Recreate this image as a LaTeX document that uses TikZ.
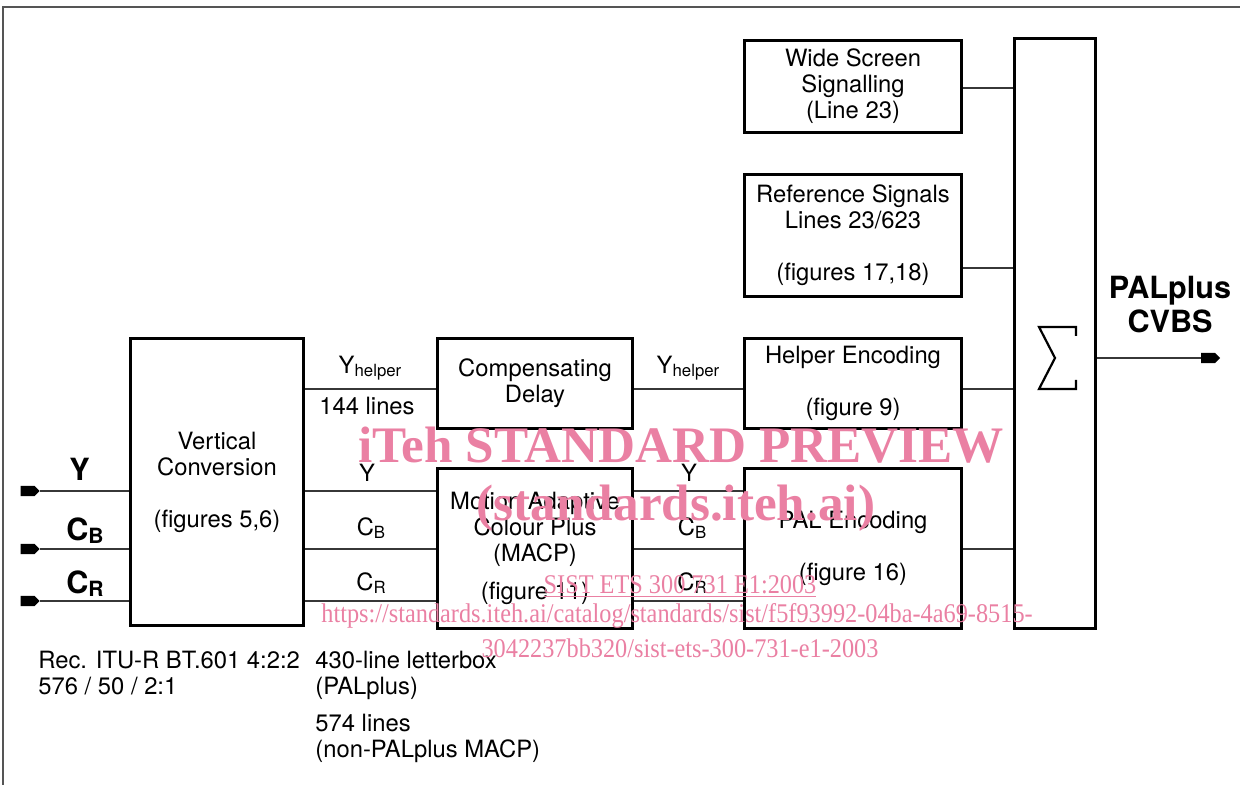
\documentclass[tikz,border=0pt]{standalone}
\usepackage{fontspec}
\setmainfont{TeX Gyre Heros}
\newfontfamily\wmfont{Liberation Serif}
\usetikzlibrary{shapes.symbols, calc}
\definecolor{wmpink}{RGB}{234,128,163}
\definecolor{linegray}{RGB}{55,55,55}
\definecolor{framegray}{RGB}{85,85,85}
\newcommand{\blkfont}{\fontsize{11.9pt}{13pt}\selectfont}
\newcommand{\sigfont}{\fontsize{15.3pt}{17pt}\selectfont\bfseries}
\newcommand{\lowsub}[1]{\raisebox{-1.5pt}{\fontsize{8.4pt}{9pt}\selectfont #1}}
\newcommand{\boldsub}[1]{\raisebox{-1.5pt}{\fontsize{10.5pt}{11pt}\selectfont\bfseries #1}}

\begin{document}
\begin{tikzpicture}[
    x=0.5pt, y=-0.5pt,
    blk/.style={draw, line width=1.5pt, align=center, inner sep=0pt, font=\blkfont},
    wire/.style={draw=linegray, line width=0.7pt},
    tag/.style={signal, signal to=east, fill=black, draw=none, inner sep=0pt,
                minimum width=9.5pt, minimum height=5.2pt},
    lbl/.style={inner sep=0pt, font=\blkfont, anchor=base},
    sig/.style={inner sep=0pt, font=\sigfont, align=center},
    note/.style={inner sep=0pt, font=\blkfont, align=left, anchor=north west},
    wmbig/.style={inner sep=0pt, text=wmpink, anchor=base,
                  font=\wmfont\bfseries\fontsize{25.6pt}{27pt}\selectfont},
    wmsmall/.style={inner sep=0pt, text=wmpink, anchor=base,
                    font=\wmfont\fontsize{13.5pt}{14pt}\selectfont},
]

\path[use as bounding box] (0,0) rectangle (1240,785);

% page frame (top and left only)
\draw[framegray, line width=0.6pt] (1240,7) -- (3,7) -- (3,785);

% ════════════════════════════════════════════════════════
% 1. BLOCKS
% ════════════════════════════════════════════════════════
\node[blk, minimum width=86.5pt, minimum height=143.5pt] (vc) at (217,482)
    {Vertical\\Conversion\\[13pt](figures 5,6)};
\node[blk, minimum width=97.5pt, minimum height=45pt] (cd) at (535,383.5)
    {Compensating\\Delay};
\node[blk, minimum width=97.5pt, minimum height=80pt] (macp) at (535,548.5)
    {Motion Adaptive\\Colour Plus\\(MACP)\\[6pt](figure 11)};
\node[blk, minimum width=108.5pt, minimum height=46pt] (wss) at (853,86.5)
    {Wide Screen\\Signalling\\(Line 23)};
\node[blk, minimum width=108.5pt, minimum height=61pt] (rs) at (853,235.5)
    {Reference Signals\\Lines 23/623\\[13pt](figures 17,18)};
\node[blk, minimum width=108.5pt, minimum height=45pt] (he) at (853,383.5)
    {Helper Encoding\\[13pt](figure 9)};
\node[blk, minimum width=108.5pt, minimum height=80pt] (pe) at (853,548.5)
    {PAL Encoding\\[13pt](figure 16)};
\node[blk, minimum width=40.5pt, minimum height=295pt] (sum) at (1055,333.5) {};

% Sigma inside the adder
\coordinate (sg) at (1057,358);
\draw[line width=1.1pt]
    ($(sg)+(19,-22)$) -- ($(sg)+(19,-31)$) -- ($(sg)+(-18,-31)$)
    -- ($(sg)+(-2,0)$) -- ($(sg)+(-18,31)$) -- ($(sg)+(19,31)$)
    -- ($(sg)+(19,22)$);

% ════════════════════════════════════════════════════════
% 2. SIGNAL LINES
% ════════════════════════════════════════════════════════
\coordinate (lH) at (0,389);
\coordinate (lW) at (0,88);
\coordinate (lR) at (0,268);

\foreach \n/\y in {Y/491, CB/549, CR/601}{
    \coordinate (l\n) at (0,\y);
    \node[tag] (in\n) at (27.5,\y) {};
    \draw[wire] (in\n.east) -- (in\n.east -| vc.west);
    \draw[wire] (vc.east |- l\n) -- (macp.west |- l\n);
    \draw[wire] (macp.east |- l\n) -- (pe.west |- l\n);
}

\draw[wire] (vc.east |- lH) -- (cd.west |- lH);
\draw[wire] (cd.east |- lH) -- (he.west |- lH);

% into the adder
\draw[wire] (wss.east |- lW) -- (sum.west |- lW);
\draw[wire] (rs.east |- lR) -- (sum.west |- lR);
\draw[wire] (he.east |- lH) -- (sum.west |- lH);
\draw[wire] (pe.east |- lCB) -- (sum.west |- lCB);

% output
\node[tag] (out) at (1208,358) {};
\draw[wire] (sum.east |- out) -- (out.west);

% ════════════════════════════════════════════════════════
% 3. LABELS
% ════════════════════════════════════════════════════════
\node[sig, anchor=base] (sY)  at (79.5,480) {Y};
\node[sig, anchor=base] (sCB) at (85,540) {C\boldsub{B}};
\node[sig, anchor=base] (sCR) at (85,593) {C\boldsub{R}};

\node[lbl] (hA)  at (370,374) {Y\lowsub{helper}};
\node[lbl] (nA)  at (367,415) {144 lines};
\node[lbl] (yA)  at (367,481) {Y};
\node[lbl] (cbA) at (371,535) {C\lowsub{B}};
\node[lbl] (crA) at (371,590) {C\lowsub{R}};

\node[lbl] (hB)  at (688,374) {Y\lowsub{helper}};
\node[lbl] (yB)  at (689,481) {Y};
\node[lbl] (cbB) at (692,535) {C\lowsub{B}};
\node[lbl] (crB) at (692,590) {C\lowsub{R}};

\node[sig] (outlbl) at (1170,305) {PALplus\\CVBS};

\node[note] (fmt) at (38,651)  {Rec. ITU-R BT.601 4:2:2\\576 / 50 / 2:1};
\node[note] (lbx) at (315,651) {430-line letterbox\\(PALplus)};
\node[note] (mcl) at (315,714) {574 lines\\(non-PALplus MACP)};

% ════════════════════════════════════════════════════════
% 4. WATERMARK
% ════════════════════════════════════════════════════════
\node[wmbig] (wmA) at (681,462) {iTeh STANDARD PREVIEW};
\node[wmbig] (wmB) at (676,520) {(standards.iteh.ai)};
\node[wmsmall] (wmC) at (680,593)
    {\scalebox{0.9}[1]{\underline{SIST ETS 300 731 E1:2003}}};
\node[wmsmall] (wmD) at (677,622)
    {\scalebox{0.9}[1]{https://standards.iteh.ai/catalog/standards/sist/f5f93992-04ba-4a69-8515-}};
\node[wmsmall] (wmE) at (680,657)
    {\scalebox{0.9}[1]{3042237bb320/sist-ets-300-731-e1-2003}};

\end{tikzpicture}
\end{document}
